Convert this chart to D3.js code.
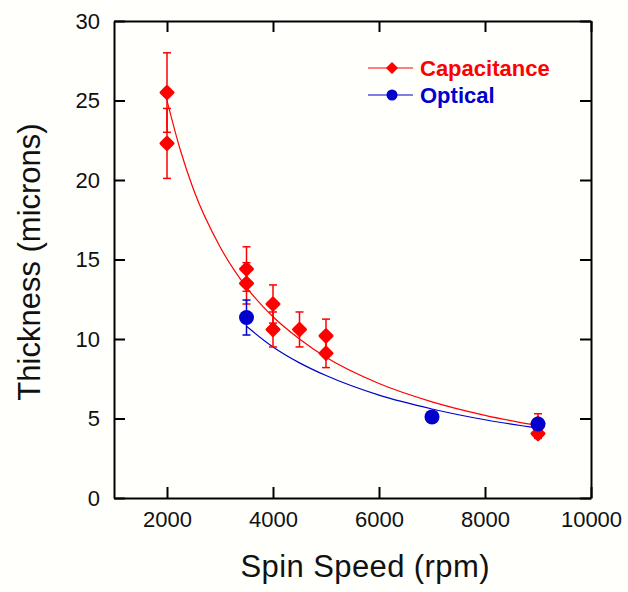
<!DOCTYPE html>
<html lang="en">
<head>
  <meta charset="UTF-8" />
  <title>Thickness vs Spin Speed</title>
  <script src="https://d3js.org/d3.v7.min.js"></script>
  <style>
    body { margin: 0; background: #fffffc; }
    svg { display: block; background: #fffffc; font-family: "Liberation Sans", Arial, sans-serif; }
    .axis path, .axis line { stroke: #000; stroke-width: 2px; }
    .axis text { font-size: 22px; fill: #111; font-family: "Liberation Sans", Arial, sans-serif; }
    .fit { fill: none; stroke-width: 1.2px; }
    .err { stroke-width: 1.5px; fill: none; }
  </style>
</head>
<body>
  <svg id="chart" width="628" height="592"></svg>

  <script>
    // capacitance measurements (rpm, microns, +/- error)
    const capSpeed = [2000, 2000, 3500, 3500, 4000, 4000, 4500, 5000, 5000, 9000, 9000];
    const capThick = [25.5, 22.3, 14.4, 13.5, 12.2, 10.6, 10.6, 10.2, 9.1, 4.7, 4.05];
    const capErr   = [2.5, 2.2, 1.4, 1.3, 1.2, 1.1, 1.1, 1.05, 0.9, 0.6, 0.3];

    // optical measurements
    const optSpeed = [3500, 7000, 9000];
    const optThick = [11.35, 5.1, 4.65];
    const optErr   = [1.1, 0.3, 0.3];

    // fitted curves
    const capFitSpeed = [2000, 2250, 2500, 3000, 3500, 4000, 4500, 5000, 6000, 7000, 8000, 9000];
    const capFit      = [25.0, 21.9, 19.4, 15.8, 13.25, 11.4, 10.0, 8.85, 7.2, 6.05, 5.2, 4.55];
    const optFitSpeed = [3500, 4000, 4500, 5000, 6000, 7000, 8000, 9000];
    const optFit      = [10.8, 9.5, 8.5, 7.7, 6.47, 5.6, 4.92, 4.4];

    const xTicks = [2000, 4000, 6000, 8000, 10000];
    const yTicks = [0, 5, 10, 15, 20, 25, 30];

    const red = '#ff0000', blue = '#0000cc';
    const mLeft = 114, mRight = 591, mTop = 21, mBottom = 498;

    const svg = d3.select('#chart');
    const x = d3.scaleLinear().domain([1000, 10000]).range([mLeft, mRight]);
    const y = d3.scaleLinear().domain([0, 30]).range([mBottom, mTop]);

    // frame with inward ticks on all four sides
    svg.append('g').attr('class', 'axis').attr('transform', `translate(0,${mBottom})`)
      .call(d3.axisBottom(x).tickValues(xTicks).tickSizeInner(-11).tickSizeOuter(0).tickPadding(13).tickFormat(d3.format('d')));
    svg.append('g').attr('class', 'axis').attr('transform', `translate(0,${mTop})`)
      .call(d3.axisTop(x).tickValues(xTicks).tickSizeInner(-11).tickSizeOuter(0).tickFormat(''));
    svg.append('g').attr('class', 'axis').attr('transform', `translate(${mLeft},0)`)
      .call(d3.axisLeft(y).tickValues(yTicks).tickSizeInner(-11).tickSizeOuter(0).tickPadding(14));
    svg.append('g').attr('class', 'axis').attr('transform', `translate(${mRight},0)`)
      .call(d3.axisRight(y).tickValues(yTicks).tickSizeInner(-11).tickSizeOuter(0).tickFormat(''));
    svg.selectAll('.axis text').attr('fill', '#111');

    // axis titles
    svg.append('text').attr('x', 365).attr('y', 577).attr('text-anchor', 'middle')
      .style('font-size', '31px').attr('fill', '#111').attr('textLength', 249).text('Spin Speed (rpm)');
    svg.append('text').attr('transform', 'translate(40,262) rotate(-90)').attr('text-anchor', 'middle')
      .style('font-size', '31px').attr('fill', '#111').text('Thickness (microns)');

    // fit curves
    const line = d3.line().x(d => x(d[0])).y(d => y(d[1])).curve(d3.curveMonotoneX);
    svg.append('path').attr('class', 'fit').attr('stroke', red)
      .attr('d', line(capFitSpeed.map((s, i) => [s, capFit[i]])));
    svg.append('path').attr('class', 'fit').attr('stroke', blue)
      .attr('d', line(optFitSpeed.map((s, i) => [s, optFit[i]])));

    const capData = capSpeed.map((s, i) => ({ s, t: capThick[i], e: capErr[i] }));
    const optData = optSpeed.map((s, i) => ({ s, t: optThick[i], e: optErr[i] }));

    function errorBars(data, color) {
      const g = svg.append('g').attr('stroke', color).attr('class', 'err');
      data.forEach(d => {
        const cx = x(d.s), y0 = y(d.t - d.e), y1 = y(d.t + d.e);
        g.append('line').attr('x1', cx).attr('x2', cx).attr('y1', y0).attr('y2', y1);
        g.append('line').attr('x1', cx - 4).attr('x2', cx + 4).attr('y1', y0).attr('y2', y0);
        g.append('line').attr('x1', cx - 4).attr('x2', cx + 4).attr('y1', y1).attr('y2', y1);
      });
    }
    errorBars(capData, red);
    errorBars(optData, blue);

    const diamond = r => `M0,${-r}L${r},0L0,${r}L${-r},0Z`;

    svg.append('g').selectAll('path').data(capData).join('path')
      .attr('d', diamond(6))
      .attr('transform', d => `translate(${x(d.s)},${y(d.t)})`)
      .attr('fill', red).attr('stroke', red).attr('stroke-width', 3).attr('stroke-linejoin', 'round');

    svg.append('g').selectAll('circle').data(optData).join('circle')
      .attr('cx', d => x(d.s)).attr('cy', d => y(d.t)).attr('r', 7.5)
      .attr('fill', blue);

    // legend
    const lg = svg.append('g');
    lg.append('line').attr('x1', 368).attr('x2', 413).attr('y1', 68).attr('y2', 68).attr('stroke', red).attr('stroke-width', 1.2);
    lg.append('path').attr('d', diamond(5)).attr('transform', 'translate(392,68)').attr('fill', red)
      .attr('stroke', red).attr('stroke-width', 1.5).attr('stroke-linejoin', 'round');
    lg.append('text').attr('x', 420).attr('y', 76).attr('fill', red)
      .style('font-size', '22px').style('font-weight', 'bold').text('Capacitance');
    lg.append('line').attr('x1', 368).attr('x2', 413).attr('y1', 95).attr('y2', 95).attr('stroke', blue).attr('stroke-width', 1.2);
    lg.append('circle').attr('cx', 392).attr('cy', 95).attr('r', 5.5).attr('fill', blue);
    lg.append('text').attr('x', 420).attr('y', 103).attr('fill', blue)
      .style('font-size', '22px').style('font-weight', 'bold').text('Optical');
  </script>
</body>
</html>
